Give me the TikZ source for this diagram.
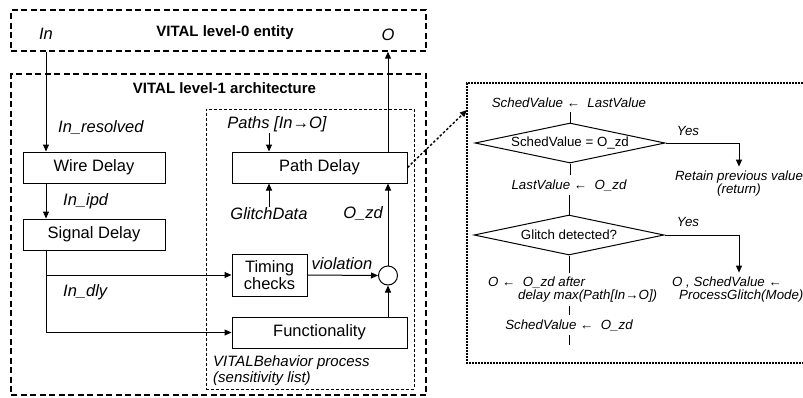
\documentclass[tikz,border=0pt]{standalone}
\usepackage{fontspec}
\setmainfont{Liberation Sans}
\usetikzlibrary{arrows.meta,shapes.geometric}
\begin{document}
\begin{tikzpicture}[x=1pt,y=-1pt,
  every node/.style={font=\fontsize{16.5}{17}\selectfont},
  box/.style={draw, line width=1pt, inner sep=0, minimum height=31},
  lbl/.style={font=\fontsize{16.5}{17}\selectfont\itshape, inner sep=1},
  ttl/.style={font=\fontsize{15}{17}\selectfont\bfseries, inner sep=1},
  smalli/.style={font=\fontsize{13.3}{13}\selectfont\itshape, inner xsep=0, inner ysep=4, align=center},
  arr/.style={line width=1pt, -{Triangle[length=7pt,width=6pt]}},
  ln/.style={line width=1pt},
  outerbox/.style={draw, line width=1.4pt, dash pattern=on 6pt off 3.5pt, inner sep=0},
  procbox/.style={draw, line width=0.8pt, dash pattern=on 3pt off 2pt, inner sep=0},
  dotbox/.style={line width=1.4pt, dash pattern=on 1.6pt off 1.4pt},
  dotarr/.style={line width=1.4pt, dash pattern=on 2.5pt off 2pt, -{Triangle[length=7pt,width=6pt]}},
  dia/.style={draw, diamond, aspect=5, inner sep=0, minimum width=190, minimum height=40, line width=1pt, font=\fontsize{13.3}{13}\selectfont}
]
\useasboundingbox (0,0) rectangle (803,397);

% containers
\node[outerbox, minimum width=415, minimum height=41] (L0) at (218.5,30.5) {};
\node[outerbox, minimum width=415, minimum height=321] (L1) at (218.5,234.5) {};
\node[procbox, minimum width=208, minimum height=280] (proc) at (310,249) {};
\draw[dotbox] (803,83) -- (467,83) -- (467,363) -- (803,363);
\coordinate (rbin) at (467,110);

% titles and labels
\node[ttl] (t0) at (225,33) {VITAL level-0 entity};
\node[ttl] (t1) at (224.5,88) {VITAL level-1 architecture};
\node[lbl] (inl) at (46,34) {In};
\node[lbl] (ol) at (388,35) {O};
\node[lbl, anchor=west] (inres) at (57,128) {In\_resolved};
\node[lbl, anchor=west] (inipd) at (62,201) {In\_ipd};
\node[lbl, anchor=west] (indly) at (62,292) {In\_dly};
\node[lbl] (paths) at (277,124) {Paths [In→O]};
\node[lbl] (glitch) at (269,214) {GlitchData};
\node[lbl, anchor=east] (ozd) at (384,214) {O\_zd};
\node[lbl] (viol) at (342,264) {violation};
\node[font=\fontsize{15}{15.5}\selectfont\itshape, align=left, anchor=west, inner sep=0] (vb) at (213,370.5) {VITALBehavior process\\(sensitivity list)};

% boxes
\node[box, minimum width=142] (wire) at (94,167.5) {Wire Delay};
\node[box, minimum width=142] (sig) at (94,234.5) {Signal Delay};
\node[box, minimum width=175] (pd) at (319.5,167.5) {Path Delay};
\node[box, minimum width=75, minimum height=42, align=center, font=\fontsize{16.5}{17}\selectfont] (tim) at (269.5,275) {Timing\\checks};
\node[box, minimum width=175] (func) at (319.5,332.5) {Functionality};
\node[draw, circle, line width=1pt, minimum size=19, inner sep=0] (circ) at (388,275.5) {};

% left connectors
\draw[arr] (L0.south -| inl) -- (wire.north -| inl);
\draw[arr] (wire.south -| inl) -- (sig.north -| inl);
\draw[arr] (sig.south -| inl) |- (func.west);
\coordinate (br) at (inl |- tim.west);
\draw[arr] (br) -- (tim.west);
\draw[arr] (tim.east) -- (circ.west);
\draw[arr] (func.north -| circ) -- (circ.south);
\draw[arr] (circ.north) -- (pd.south -| circ);
\draw[arr] (pd.north -| circ) -- (L0.south -| circ);
\draw[arr] (paths.south -| glitch) -- (pd.north -| glitch);
\draw[arr] (glitch.north) -- (pd.south -| glitch);
\draw[dotarr] (pd.east) -- (rbin);

% flowchart
\node[smalli] (s1) at (569,103) {SchedValue ←\ \ LastValue};
\node[dia] (d1) at (570,143) {SchedValue = O\_zd};
\node[smalli] (s2) at (569,185) {LastValue ←\ \ O\_zd};
\node[dia] (d2) at (569,235) {Glitch detected?};
\node[smalli] (yes1) at (688,131) {Yes};
\node[smalli] (yes2) at (688,222) {Yes};
\node[smalli] (ret) at (739,183.5) {Retain previous value\\(return)};
\node[smalli, align=left, anchor=west] (pg) at (672,289.5) {O , SchedValue ←\\\hspace*{7pt}ProcessGlitch(Mode)};
\node[smalli, align=left, anchor=west] (oa) at (488,289.5) {O ←\ \ O\_zd after\\\hspace*{30pt}delay max(Path[In→O])};
\node[smalli] (s3) at (569,325) {SchedValue ←\ \ O\_zd};
\coordinate (fend) at (569,345);

\draw[ln] (s1.south -| d1) -- (d1.north);
\draw[ln] (d1.south) -- (s2.north -| d1);
\draw[ln] (s2.south -| d2) -- (d2.north);
\draw[arr] (d1.east) -| (ret.north);
\draw[arr] (d2.east) -| (pg.north -| ret);
\draw[ln] (d2.south) -- (oa.north -| d2);
\draw[ln] (oa.south -| d2) -- (s3.north -| d2);
\draw[ln] (s3.south -| d2) -- (fend);
\end{tikzpicture}
\end{document}
